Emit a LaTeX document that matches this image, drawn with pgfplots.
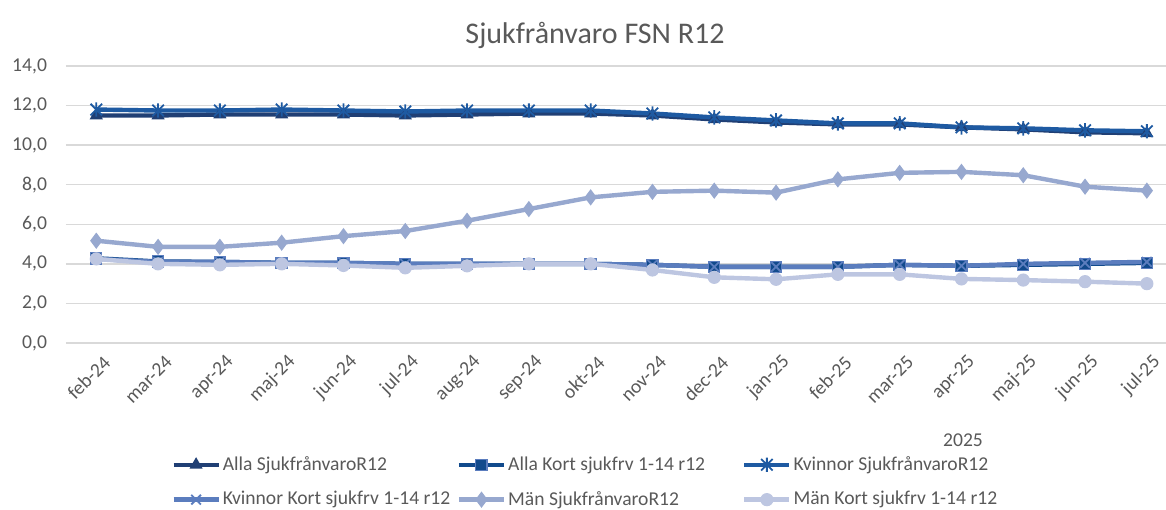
\documentclass[border=0pt]{standalone}
\usepackage{pgfplots}
\pgfplotsset{compat=1.18}
\usepackage{fontspec}
\setmainfont{Carlito}
\definecolor{cA}{HTML}{203F74}
\definecolor{cB}{HTML}{114A8C}
\definecolor{cC}{HTML}{1E5AA2}
\definecolor{cD}{HTML}{5B7DBE}
\definecolor{cE}{HTML}{97A8CF}
\definecolor{cF}{HTML}{BDC6E1}
\definecolor{txt}{HTML}{595959}
\definecolor{gridc}{HTML}{D9D9D9}
\pgfdeclareplotmark{xstar}{%
  \pgfpathmoveto{\pgfqpoint{0pt}{-\pgfplotmarksize}}%
  \pgfpathlineto{\pgfqpoint{0pt}{\pgfplotmarksize}}%
  \pgfpathmoveto{\pgfqpoint{-0.8\pgfplotmarksize}{-0.8\pgfplotmarksize}}%
  \pgfpathlineto{\pgfqpoint{0.8\pgfplotmarksize}{0.8\pgfplotmarksize}}%
  \pgfpathmoveto{\pgfqpoint{-0.8\pgfplotmarksize}{0.8\pgfplotmarksize}}%
  \pgfpathlineto{\pgfqpoint{0.8\pgfplotmarksize}{-0.8\pgfplotmarksize}}%
  \pgfusepathqstroke}
\pgfplotstableread{
x allaS allaK kvS kvK manS manK
0  11.50 4.28 11.80 4.25 5.17 4.25
1  11.50 4.12 11.75 4.10 4.86 4.00
2  11.55 4.10 11.75 4.10 4.86 3.95
3  11.55 4.05 11.80 4.05 5.07 4.00
4  11.55 4.05 11.75 4.05 5.40 3.92
5  11.50 4.00 11.70 4.00 5.66 3.80
6  11.55 4.00 11.75 4.00 6.18 3.90
7  11.60 4.00 11.75 4.00 6.77 4.00
8  11.60 4.00 11.75 4.00 7.36 4.00
9  11.50 3.95 11.60 3.95 7.64 3.69
10 11.30 3.85 11.40 3.85 7.70 3.32
11 11.15 3.85 11.25 3.85 7.60 3.22
12 11.05 3.85 11.10 3.85 8.27 3.47
13 11.05 3.95 11.10 3.95 8.60 3.47
14 10.90 3.90 10.90 3.90 8.65 3.24
15 10.80 3.95 10.85 4.00 8.48 3.18
16 10.65 4.00 10.75 4.05 7.90 3.10
17 10.60 4.05 10.70 4.10 7.70 3.00
}\datatable
\begin{document}
\begin{tikzpicture}
\path[use as bounding box] (-33pt,-83pt) rectangle (550pt,171.5pt);
\node[font=\fontsize{15}{18}\selectfont, text=txt] at (264.5pt,154pt) {Sjukfrånvaro FSN R12};
\node[font=\fontsize{9.8}{12}\selectfont, text=txt] at (448.5pt,-48.5pt) {2025};
\begin{axis}[
  at={(0pt,0pt)}, anchor=south west,
  scale only axis, width=550pt, height=138.5pt,
  xmin=-0.49, xmax=17.31, ymin=0, ymax=14,
  ytick={0,2,...,14},
  xtick={0,...,17},
  xticklabels={feb-24,mar-24,apr-24,maj-24,jun-24,jul-24,aug-24,sep-24,okt-24,nov-24,dec-24,jan-25,feb-25,mar-25,apr-25,maj-25,jun-25,jul-25},
  axis line style={draw=none},
  major tick style={draw=none},
  ymajorgrids, grid style={color=gridc, line width=0.7pt},
  tick label style={font=\fontsize{9.8}{12}\selectfont, text=txt},
  /pgf/number format/assume math mode=true,
  yticklabel style={/pgf/number format/fixed, /pgf/number format/fixed zerofill, /pgf/number format/precision=1, /pgf/number format/use comma, xshift=-6pt},
  xticklabel style={rotate=45, anchor=east, yshift=-9.5pt, xshift=1.5pt},
  legend columns=3,
  legend style={draw=none, fill=none, at={(0.09,-0.386)}, anchor=north west,
    font=\fontsize{9.8}{12}\selectfont, text=txt,
    nodes={inner sep=1pt},
    /tikz/every odd column/.append style={column sep=0pt},
    /tikz/every even column/.append style={column sep=9pt},
    row sep=7pt},
  legend cell align=left,
  legend image code/.code={\draw[mark repeat=2,mark phase=2,#1] plot coordinates {(0pt,0pt) (11.25pt,0pt) (22.5pt,0pt)};},
  every axis plot/.append style={line width=2.2pt},
]
\addplot[color=cA, mark=triangle*, mark size=3.2pt, mark options={line width=0.6pt}] table[x=x,y=allaS] {\datatable};
\addlegendentry{\makebox[107pt][l]{Alla SjukfrånvaroR12}}
\addplot[color=cB, mark=square*, mark size=2.8pt, mark options={line width=0.6pt, draw=cD}] table[x=x,y=allaK] {\datatable};
\addlegendentry{\makebox[107pt][l]{Alla Kort sjukfrv 1-14 r12}}
\addplot[color=cC, mark=xstar, mark size=3.6pt, mark options={line width=0.9pt}] table[x=x,y=kvS] {\datatable};
\addlegendentry{\makebox[107pt][l]{Kvinnor SjukfrånvaroR12}}
\addplot[color=cD, mark=x, mark size=3.4pt, mark options={line width=0.9pt}] table[x=x,y=kvK] {\datatable};
\addlegendentry{\makebox[107pt][l]{Kvinnor Kort sjukfrv 1-14 r12}}
\addplot[color=cE, mark=diamond*, mark size=3.6pt, mark options={line width=0.6pt}] table[x=x,y=manS] {\datatable};
\addlegendentry{\makebox[107pt][l]{Män SjukfrånvaroR12}}
\addplot[color=cF, mark=*, mark size=3pt, mark options={line width=0.6pt}] table[x=x,y=manK] {\datatable};
\addlegendentry{\makebox[107pt][l]{Män Kort sjukfrv 1-14 r12}}
\end{axis}
\end{tikzpicture}
\end{document}
